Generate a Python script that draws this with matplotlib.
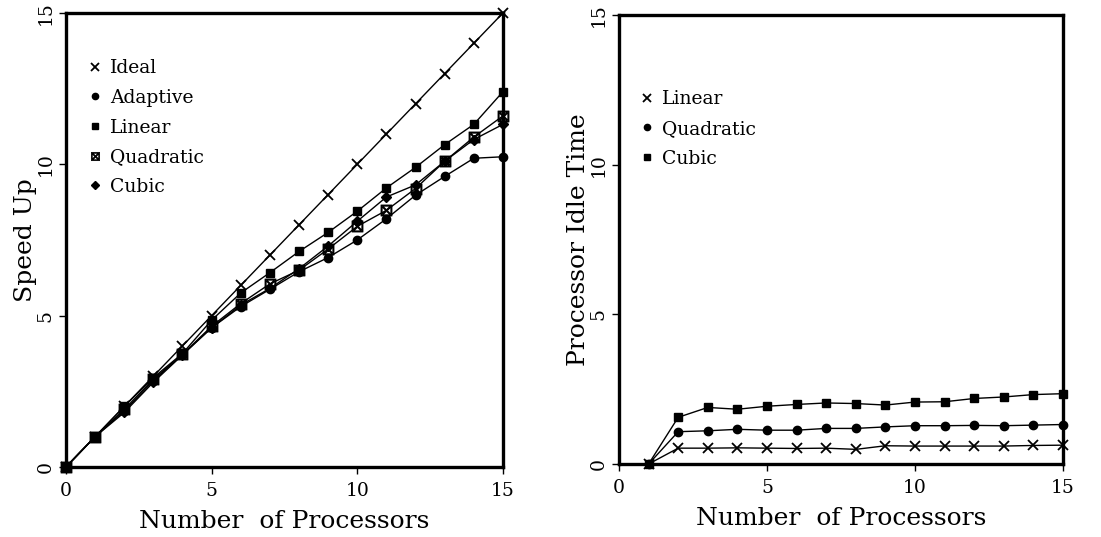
import matplotlib
matplotlib.use("Agg")
import matplotlib.pyplot as plt

# ---- data ----
procs = list(range(0, 16))
ideal = [0, 1, 2, 3, 4, 5, 6, 7, 8, 9, 10, 11, 12, 13, 14, 15]
adaptive = [0, 1, 1.85, 2.85, 3.72, 4.6, 5.3, 5.87, 6.45, 6.92, 7.5, 8.2, 8.98, 9.6, 10.2, 10.25]
linear = [0, 1, 2.0, 2.95, 3.75, 4.85, 5.75, 6.42, 7.12, 7.75, 8.45, 9.22, 9.9, 10.65, 11.32, 12.4]
quadratic = [0, 1, 1.9, 2.9, 3.72, 4.65, 5.4, 6.05, 6.5, 7.2, 7.95, 8.48, 9.2, 10.1, 10.9, 11.6]
cubic = [0, 1, 1.8, 2.8, 3.7, 4.6, 5.35, 5.9, 6.55, 7.3, 8.12, 8.92, 9.32, 10.1, 10.82, 11.32]

procs_idle = list(range(1, 16))
idle_linear = [0, 0.53, 0.53, 0.54, 0.53, 0.52, 0.53, 0.49, 0.61, 0.6, 0.6, 0.6, 0.6, 0.62, 0.63]
idle_quadratic = [0, 1.08, 1.11, 1.16, 1.13, 1.13, 1.19, 1.19, 1.24, 1.28, 1.28, 1.29, 1.28, 1.3, 1.32]
idle_cubic = [0, 1.56, 1.89, 1.83, 1.93, 1.99, 2.04, 2.02, 1.97, 2.07, 2.08, 2.19, 2.24, 2.32, 2.35]

ticks = [0, 5, 10, 15]
xlabel = "Number  of Processors"

plt.rcParams['font.family'] = ['DejaVu Serif']

fig = plt.figure(figsize=(11.01, 5.37), dpi=100)
ax1 = fig.add_axes([0.0599, 0.1304, 0.3969, 0.8454])
ax2 = fig.add_axes([0.5622, 0.1359, 0.4033, 0.8361])

lw = 1.0
common = dict(color='black', lw=lw, clip_on=False)

ax1.plot(procs, ideal, marker='x', ms=7, mew=1.3, label='Ideal', **common)
ax1.plot(procs, adaptive, marker='o', ms=6, label='Adaptive', **common)
ax1.plot(procs, linear, marker='s', ms=6, label='Linear', **common)
ax1.plot(procs, quadratic, marker=r'$\boxtimes$', ms=8, mew=0.5, label='Quadratic', **common)
ax1.plot(procs, cubic, marker='D', ms=5, label='Cubic', **common)

ax2.plot(procs_idle, idle_linear, marker='x', ms=7, mew=1.3, label='Linear', **common)
ax2.plot(procs_idle, idle_quadratic, marker='o', ms=6, label='Quadratic', **common)
ax2.plot(procs_idle, idle_cubic, marker='s', ms=6, label='Cubic', **common)

for ax, ylabel in ((ax1, 'Speed Up'), (ax2, 'Processor Idle Time')):
    ax.set_xlim(0, 15)
    ax.set_ylim(0, 15)
    ax.set_xticks(ticks)
    ax.set_yticks(ticks)
    for s in ax.spines.values():
        s.set_linewidth(2.4)
    ax.tick_params(direction='out', length=5, width=1, labelsize=13.5)
    ax.tick_params(axis='x', pad=6)
    ax.tick_params(axis='y', pad=3)
    for t in ax.get_yticklabels():
        t.set_rotation(90)
        t.set_va('center')
    ax.set_xlabel(xlabel, fontsize=18, labelpad=7)
    ax.set_ylabel(ylabel, fontsize=18, labelpad=0)

leg1 = ax1.legend(loc='upper left', bbox_to_anchor=(0.015, 0.935), frameon=False,
                  handlelength=0.6, handletextpad=0.5, labelspacing=0.62,
                  fontsize=13.5, markerscale=0.75)
leg2 = ax2.legend(loc='upper left', bbox_to_anchor=(0.013, 0.87), frameon=False,
                  handlelength=0.6, handletextpad=0.5, labelspacing=0.62,
                  fontsize=13.5, markerscale=0.75)
for leg in (leg1, leg2):
    for h in leg.legend_handles:
        h.set_linestyle('None')

fig.savefig('out.png', dpi=100)
